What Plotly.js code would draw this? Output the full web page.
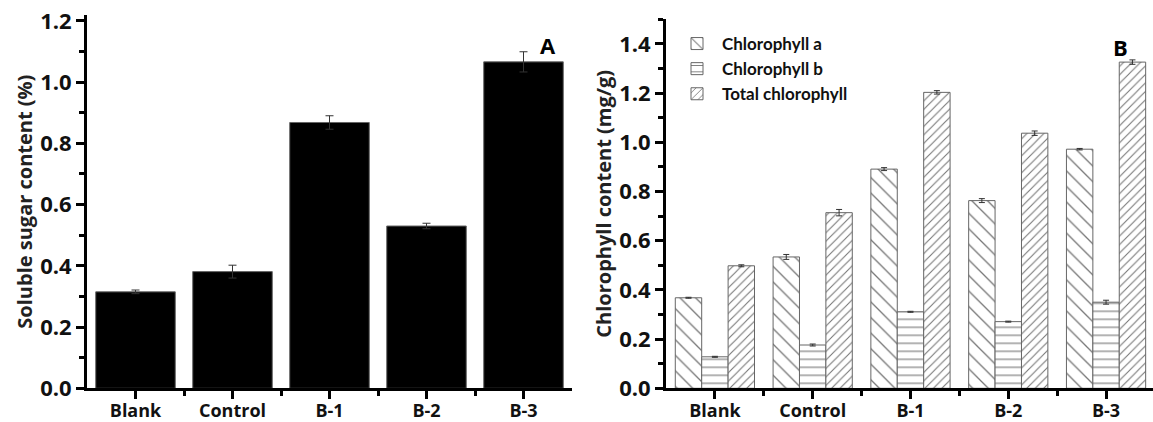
<!DOCTYPE html>
<html>
<head>
<meta charset="utf-8">
<script src="https://cdn.plot.ly/plotly-3.0.1.min.js"></script>
<style>html,body{margin:0;padding:0;background:#fff;}#chart{width:1153px;height:422px;}</style>
</head>
<body>
<div id="chart"></div>
<script>
const categories = ['Blank', 'Control', 'B-1', 'B-2', 'B-3'];
const sugar = [0.315, 0.381, 0.868, 0.530, 1.066];
const sugarErr = [0.006, 0.021, 0.022, 0.009, 0.033];
const chlA = [0.368, 0.534, 0.891, 0.763, 0.972];
const chlAErr = [0.002, 0.010, 0.006, 0.008, 0.003];
const chlB = [0.128, 0.176, 0.311, 0.271, 0.350];
const chlBErr = [0.002, 0.004, 0.002, 0.002, 0.008];
const chlTotal = [0.498, 0.714, 1.203, 1.037, 1.326];
const chlTotalErr = [0.004, 0.013, 0.007, 0.009, 0.009];
const seriesNames = ['Chlorophyll a', 'Chlorophyll b', 'Total chlorophyll'];
const yTitleA = 'Soluble sugar content (%)';
const yTitleB = 'Chlorophyll content (mg/g)';

const idx = categories.map((_, i) => i);
const FONT = '"Open Sans", Lato, sans-serif';
const W = 1153, H = 422;

function errBar(arr, w) {
  return {type: 'data', array: arr, visible: true, color: '#333', thickness: 1, width: w};
}

const traces = [
  {
    type: 'bar', x: idx, y: sugar, xaxis: 'x', yaxis: 'y', showlegend: false,
    marker: {color: '#000', line: {color: '#666', width: 1}},
    error_y: errBar(sugarErr, 4), width: 0.82
  }
];
const patterns = [
  {shape: '\\', size: 11, solidity: 0.12},
  {shape: '-', size: 8, solidity: 0.14},
  {shape: '/', size: 6, solidity: 0.18}
];
[chlA, chlB, chlTotal].forEach((vals, k) => {
  traces.push({
    type: 'bar', x: idx, y: vals, xaxis: 'x2', yaxis: 'y2', name: seriesNames[k],
    marker: {color: '#fff', line: {color: '#666', width: 1},
      pattern: Object.assign({fgcolor: '#777', bgcolor: '#fff', fillmode: 'replace'}, patterns[k])},
    error_y: errBar([chlAErr, chlBErr, chlTotalErr][k], 3)
  });
});

const tickFont = {family: FONT, size: 22, color: '#111', weight: 'bold'};
const catFont = {family: FONT, size: 18, color: '#111', weight: 'bold'};
const titleFont = {family: FONT, size: 20, color: '#222', weight: 'bold'};

function xAxis(domain, range) {
  return {
    domain: domain, range: range, showline: true, linewidth: 3, linecolor: '#000',
    ticks: 'outside', ticklen: 8, tickwidth: 3, tickcolor: '#000',
    tickmode: 'array', tickvals: idx, ticktext: categories, tickfont: catFont,
    ticklabelstandoff: -4,
    minor: {tickvals: idx.slice(0, -1).map(i => i + 0.5), ticks: 'outside', ticklen: 5, tickwidth: 3, tickcolor: '#000'},
    showgrid: false, zeroline: false, fixedrange: true
  };
}
function yAxis(domain, range, title, anchor) {
  return {
    domain: domain, range: range, anchor: anchor, showline: true, linewidth: 3, linecolor: '#000',
    ticks: 'outside', ticklen: 8, tickwidth: 3, tickcolor: '#000',
    tickmode: 'array', tickvals: [0, 0.2, 0.4, 0.6, 0.8, 1.0, 1.2, 1.4].filter(v => v <= range[1] + 1e-9),
    tickformat: '.1f', tickfont: tickFont,
    minor: {dtick: 0.1, tick0: 0, ticks: 'outside', ticklen: 5, tickwidth: 3, tickcolor: '#000'},
    title: {text: title, font: titleFont, standoff: 3},
    showgrid: false, zeroline: false, fixedrange: true
  };
}

const layout = {
  width: W, height: H,
  margin: {l: 0, r: 0, t: 0, b: 0},
  paper_bgcolor: '#fff', plot_bgcolor: '#fff',
  barmode: 'group', bargap: 0.19, bargroupgap: 0,
  font: {family: FONT},
  xaxis: xAxis([87 / W, 572 / W], [-0.5, 4.5]),
  yaxis: yAxis([(H - 388.3) / H, (H - 15) / H], [0, 1.219], yTitleA, 'x'),
  xaxis2: xAxis([666 / W, 1], [-0.5, 4.48]),
  yaxis2: yAxis([(H - 388.3) / H, (H - 19.3) / H], [0, 1.5], yTitleB, 'x2'),
  showlegend: true,
  legend: {
    x: 672 / W, y: 1 - 26 / H, xanchor: 'left', yanchor: 'top',
    font: {family: 'Lato, sans-serif', size: 17, color: '#111', weight: 'bold'},
    bgcolor: 'rgba(0,0,0,0)', traceorder: 'normal', itemwidth: 40
  },
  annotations: [
    {text: 'A', x: 548 / W, y: 1 - 28 / H, xref: 'paper', yref: 'paper', showarrow: false,
      font: {family: FONT, size: 22, color: '#000', weight: 'bold'}},
    {text: 'B', x: 1130 / W, y: 1 - 30 / H, xref: 'paper', yref: 'paper', showarrow: false,
      font: {family: FONT, size: 22, color: '#000', weight: 'bold'}}
  ]
};
layout.xaxis.anchor = 'y';
layout.xaxis2.anchor = 'y2';

Plotly.newPlot('chart', traces, layout, {displayModeBar: false, staticPlot: true});
</script>
</body>
</html>
